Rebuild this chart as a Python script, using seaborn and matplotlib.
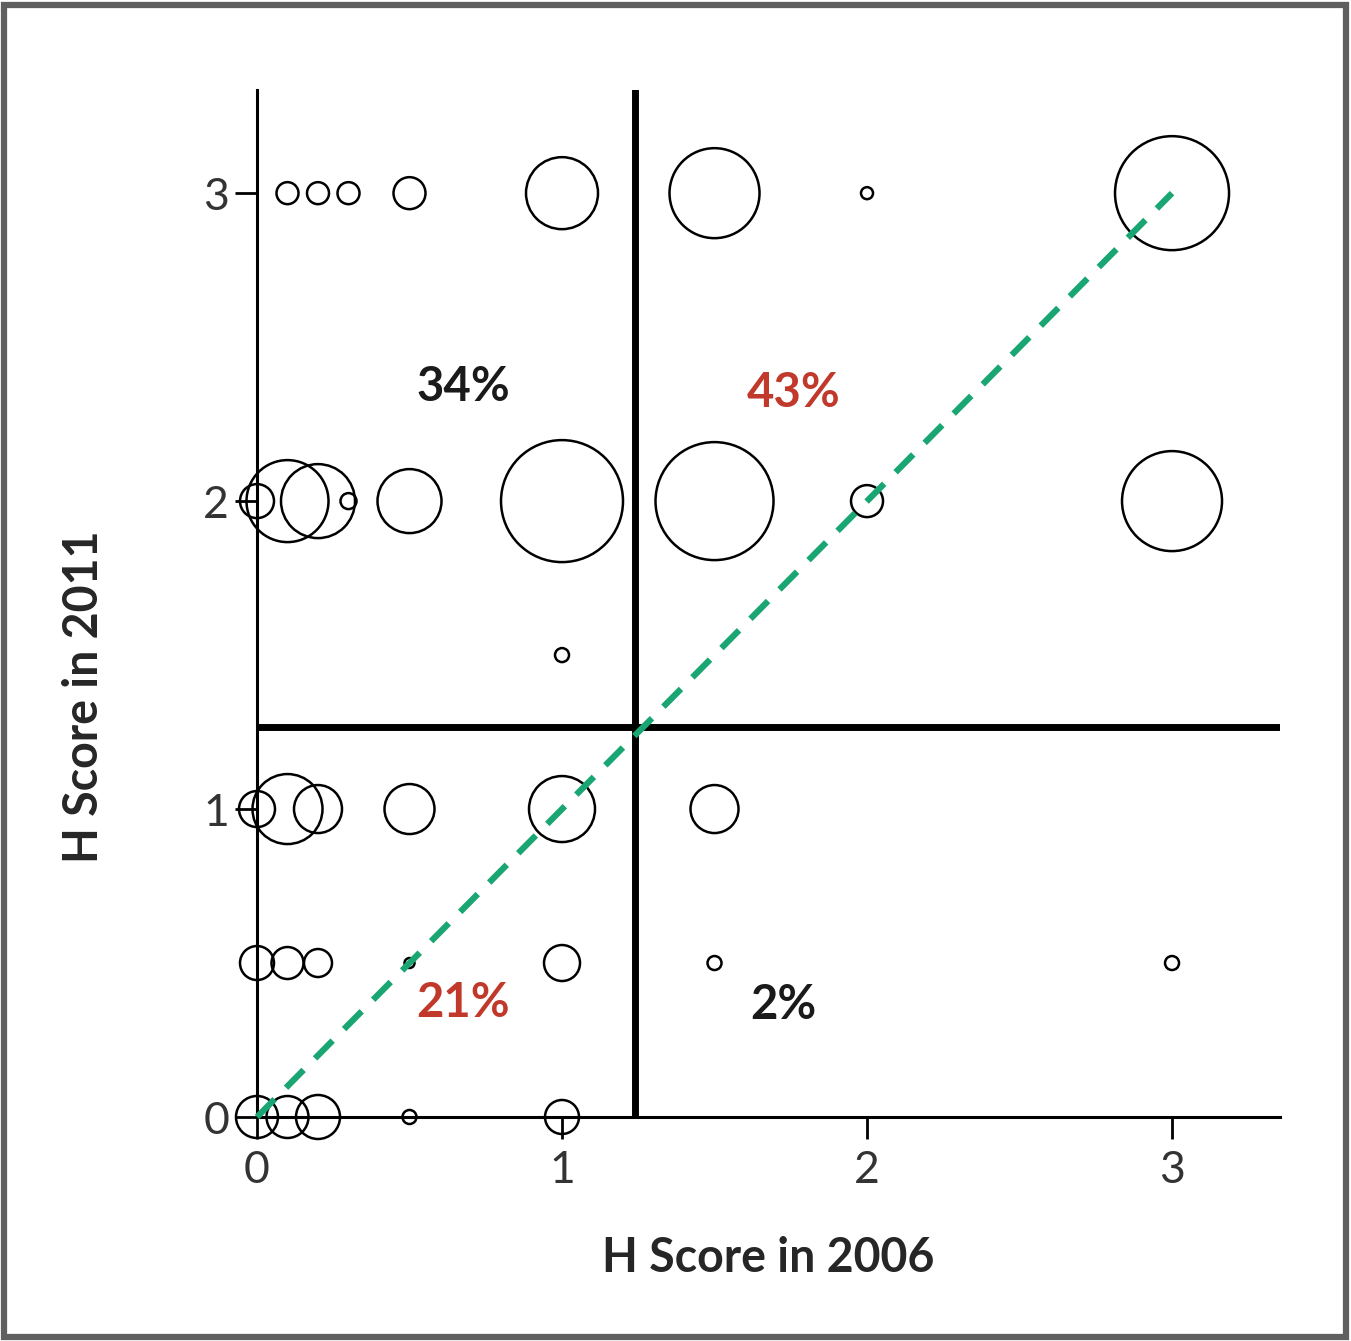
import pandas as pd
import matplotlib.pyplot as plt
import seaborn as sns
from matplotlib.patches import Rectangle

sns.set_style("white")
plt.rcParams['font.family'] = ['Lato', 'DejaVu Sans']

# bubble data: H score 2006 (x), H score 2011 (y), relative bubble size
x06 = [0.1, 0.2, 0.3, 0.5, 1.0, 1.5, 2.0, 3.0,
       0.0, 0.1, 0.2, 0.3, 0.5, 1.0, 1.5, 2.0, 3.0,
       1.0,
       0.0, 0.1, 0.2, 0.5, 1.0, 1.5,
       0.0, 0.1, 0.2, 0.5, 1.0, 1.5, 3.0,
       0.0, 0.1, 0.2, 0.5, 1.0]
y11 = [3, 3, 3, 3, 3, 3, 3, 3,
       2, 2, 2, 2, 2, 2, 2, 2, 2,
       1.5,
       1, 1, 1, 1, 1, 1,
       0.5, 0.5, 0.5, 0.5, 0.5, 0.5, 0.5,
       0, 0, 0, 0, 0]
diam = [22, 22, 22, 32, 72, 90, 12, 114,
        34, 82, 74, 16, 64, 122, 118, 32, 100,
        14,
        36, 70, 48, 50, 66, 48,
        34, 32, 28, 10, 36, 14, 14,
        42, 42, 44, 14, 34]

pct_labels = ["34%", "43%", "21%", "2%"]
pct_x = [0.675, 1.76, 0.675, 1.725]
pct_y = [2.37, 2.35, 0.37, 0.365]
pct_col = ["#1a1a1a", "#c0392b", "#c0392b", "#1a1a1a"]

cut = 1.24

df = pd.DataFrame({"x": x06, "y": y11, "d": diam})
df["area"] = (df["d"] * 0.72) ** 2  # px diameter -> pt^2 at dpi 100

fig = plt.figure(figsize=(13.51, 13.41), dpi=100)
ax = fig.add_axes([257 / 1351, 1 - 1117 / 1341, (1280 - 257) / 1351, (1117 - 90) / 1341])

amin, amax = df["area"].min(), df["area"].max()
sns.scatterplot(data=df, x="x", y="y", size="area", sizes=(amin, amax),
                size_norm=(amin, amax), facecolors="none", edgecolor="black",
                linewidth=1.8, legend=False, clip_on=False, zorder=3, ax=ax)

# diagonal
ax.plot([0, 3], [0, 3], color="#1aa672", lw=4.5, dashes=(4.0, 2.6),
        clip_on=False, zorder=4)

# quadrant lines
ax.axvline(cut, color="black", lw=5, zorder=2)
ax.axhline(1.265, xmin=0, xmax=1, color="black", lw=5, zorder=2)

for t, xx, yy, c in zip(pct_labels, pct_x, pct_y, pct_col):
    ax.text(xx, yy, t, color=c, fontsize=34, fontweight="bold",
            ha="center", va="center")

ax.set_xlim(0, 3.354)
ax.set_ylim(0, 3.335)
ax.set_xticks([0, 1, 2, 3])
ax.set_yticks([0, 1, 2, 3])
ax.tick_params(axis="both", direction="out", length=16, width=2,
               color="black", labelsize=32, labelcolor="#333333",
               left=True, bottom=True)
ax.tick_params(axis="x", pad=8)
ax.tick_params(axis="y", pad=4)
for s in ["top", "right"]:
    ax.spines[s].set_visible(False)
for s in ["left", "bottom"]:
    ax.spines[s].set_color("black")
    ax.spines[s].set_linewidth(2.2)

ax.set_xlabel("H Score in 2006", fontsize=33.5, fontweight="bold", labelpad=32)
ax.set_ylabel("H Score in 2011", fontsize=33.5, fontweight="bold", va="center")
ax.yaxis.set_label_coords(-0.169, 0.409)

fig.patches.append(Rectangle((4 / 1351, 4 / 1341), 1 - 9 / 1351, 1 - 9 / 1341,
                             transform=fig.transFigure, fill=False,
                             edgecolor="#5f5f5f", lw=4.5))

fig.savefig("out.png", dpi=100)
